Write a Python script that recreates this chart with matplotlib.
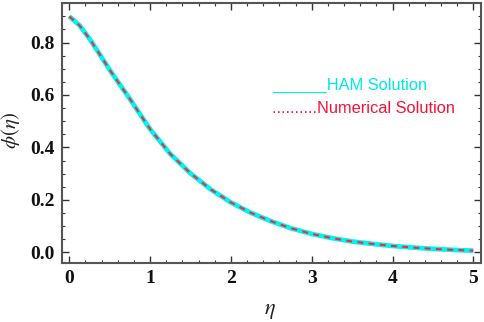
import matplotlib
matplotlib.use("Agg")
import matplotlib.pyplot as plt
from matplotlib.ticker import MultipleLocator, FormatStrFormatter

plt.rcParams["mathtext.fontset"] = "stix"

eta = [0.0, 0.125, 0.25, 0.375, 0.5, 0.625, 0.75, 0.875, 1.0, 1.25, 1.5, 1.75, 2.0,
       2.25, 2.5, 2.75, 3.0, 3.25, 3.5, 3.75, 4.0, 4.25, 4.5, 4.75, 5.0]
ham = [0.900, 0.866, 0.815, 0.756, 0.696, 0.640, 0.585, 0.527, 0.470, 0.375, 0.301,
       0.240, 0.190, 0.150, 0.118, 0.091, 0.070, 0.054, 0.041, 0.032, 0.024, 0.018,
       0.013, 0.009, 0.006]
numerical = [0.900, 0.866, 0.815, 0.756, 0.696, 0.640, 0.585, 0.527, 0.470, 0.375, 0.301,
             0.240, 0.190, 0.150, 0.118, 0.091, 0.070, 0.054, 0.041, 0.032, 0.024, 0.018,
             0.013, 0.009, 0.006]
legend_labels = ["______HAM Solution", "..........Numerical Solution"]

W, H = 484, 322
fig = plt.figure(figsize=(W / 100, H / 100), dpi=100)
ax = fig.add_axes([62 / W, 1 - 263 / H, (481 - 62) / W, (263 - 3) / H])

ax.plot(eta, ham, color="#00f2f2", lw=3.4, solid_capstyle="butt", solid_joinstyle="round")
ax.plot(eta, numerical, color="#e8313a", lw=1.5, dashes=(2.8, 2.6), dash_joinstyle="round")

ax.set_xlim(-0.09, 5.095)
ax.set_ylim(-0.041, 0.951)

ax.xaxis.set_major_locator(MultipleLocator(1))
ax.xaxis.set_minor_locator(MultipleLocator(0.2))
ax.yaxis.set_major_locator(MultipleLocator(0.2))
ax.yaxis.set_minor_locator(MultipleLocator(0.05))
ax.yaxis.set_major_formatter(FormatStrFormatter("%.1f"))

ax.tick_params(which="both", direction="in", top=True, right=True, color="#333333")
ax.tick_params(which="major", length=5, width=1.0, pad=5)
ax.tick_params(which="minor", length=2.5, width=0.8)
for lab in ax.get_xticklabels() + ax.get_yticklabels():
    lab.set_fontfamily("Liberation Serif")
    lab.set_fontweight("bold")
    lab.set_fontsize(14)
    lab.set_color("#111111")

for sp in ax.spines.values():
    sp.set_color("#555555")
    sp.set_linewidth(1.5)

fig.text(270 / W, 1 - 311 / H, r"$\eta$", fontsize=16, ha="center", va="center", color="#222222")
fig.text(11 / W, 1 - 130 / H, r"$\phi(\eta)$", fontsize=15, rotation=90,
         ha="center", va="center", color="#222222")

fig.text(272 / W, 1 - 85 / H, legend_labels[0],
         color="#00e8e8", fontsize=11.8, family="Liberation Sans", va="center", ha="left")
fig.text(272 / W, 1 - 109 / H, legend_labels[1],
         color="#f5133c", fontsize=11.8, family="Liberation Sans", va="center", ha="left")

fig.savefig("out.png", dpi=100)
